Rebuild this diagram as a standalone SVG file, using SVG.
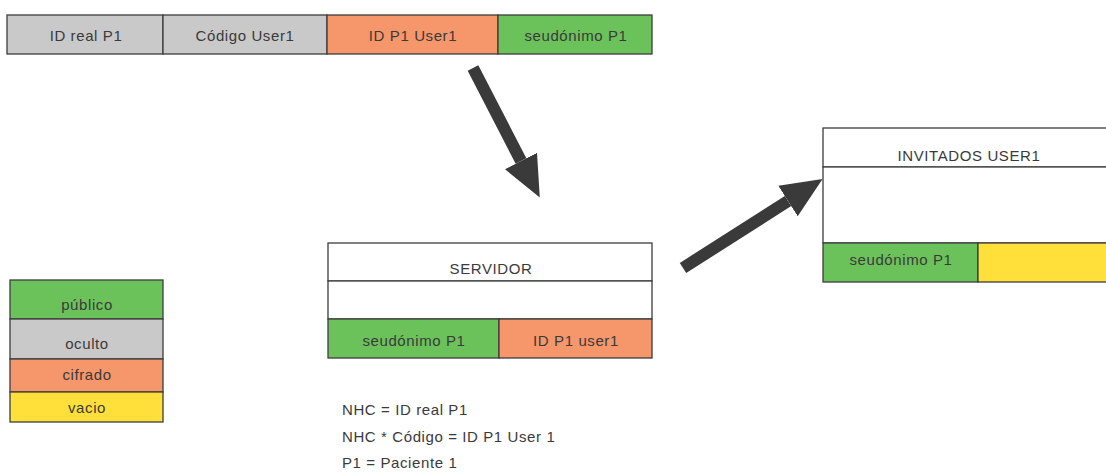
<svg xmlns="http://www.w3.org/2000/svg" width="1106" height="475" viewBox="0 0 1106 475">
<style>
  text { font-family: "Liberation Sans", Arial, sans-serif; font-size: 15px; letter-spacing: 0.6px; fill: #3a3a3a; text-anchor: middle; }
  .note { text-anchor: start; }
  .cell { stroke: #3c3c3c; stroke-width: 1.3; }
  .gray { fill: #c9c9c9; }
  .orange { fill: #f5966b; }
  .green { fill: #6cc25a; }
  .yellow { fill: #ffe03a; }
  .white { fill: #ffffff; }
  .arrow { stroke: #3a3a3a; stroke-width: 12; fill: none; }
</style>
<defs>
  <marker id="head" markerUnits="userSpaceOnUse" markerWidth="42" markerHeight="38" refX="0" refY="19" orient="auto">
    <path d="M0,1 L41,19 L0,37 z" fill="#3a3a3a"/>
  </marker>
</defs>
<rect width="1106" height="475" fill="#ffffff"/>

<g id="top-bar">
  <rect class="cell gray" x="7" y="15" width="156" height="39"/>
  <rect class="cell gray" x="163" y="15" width="164" height="39"/>
  <rect class="cell orange" x="327" y="15" width="171" height="39"/>
  <rect class="cell green" x="498" y="15" width="154" height="39"/>
  <text x="86" y="41">ID real P1</text>
  <text x="245" y="41">Código User1</text>
  <text x="413" y="41">ID P1 User1</text>
  <text x="576" y="41">seudónimo P1</text>
</g>

<g id="servidor">
  <rect class="cell white" x="328" y="243" width="324" height="38"/>
  <rect class="cell white" x="328" y="281" width="324" height="38"/>
  <rect class="cell green" x="328" y="319" width="171" height="39"/>
  <rect class="cell orange" x="499" y="319" width="153" height="39"/>
  <text x="491" y="274">SERVIDOR</text>
  <text x="414" y="346">seudónimo P1</text>
  <text x="576" y="346">ID P1 user1</text>
</g>

<g id="invitados">
  <rect class="cell white" x="823" y="128" width="290" height="39"/>
  <rect class="cell white" x="823" y="167" width="290" height="76"/>
  <rect class="cell green" x="823" y="243" width="155" height="39"/>
  <rect class="cell yellow" x="978" y="243" width="135" height="39"/>
  <text x="969" y="161">INVITADOS USER1</text>
  <text x="901" y="265">seudónimo P1</text>
</g>

<g id="legend">
  <rect class="cell green" x="10" y="280" width="153" height="39"/>
  <rect class="cell gray" x="10" y="319" width="153" height="40"/>
  <rect class="cell orange" x="10" y="359" width="153" height="33"/>
  <rect class="cell yellow" x="10" y="392" width="153" height="30"/>
  <text x="87" y="310">público</text>
  <text x="87" y="349">oculto</text>
  <text x="87" y="380">cifrado</text>
  <text x="87" y="413">vacio</text>
</g>

<g id="notes">
  <text class="note" x="342" y="415">NHC = ID real P1</text>
  <text class="note" x="342" y="442">NHC * Código = ID P1 User 1</text>
  <text class="note" x="342" y="468">P1 = Paciente 1</text>
</g>

<g id="connectors">
  <line class="arrow" x1="473" y1="68" x2="521" y2="161" marker-end="url(#head)"/>
  <line class="arrow" x1="683" y1="268" x2="788" y2="201" marker-end="url(#head)"/>
</g>
</svg>
